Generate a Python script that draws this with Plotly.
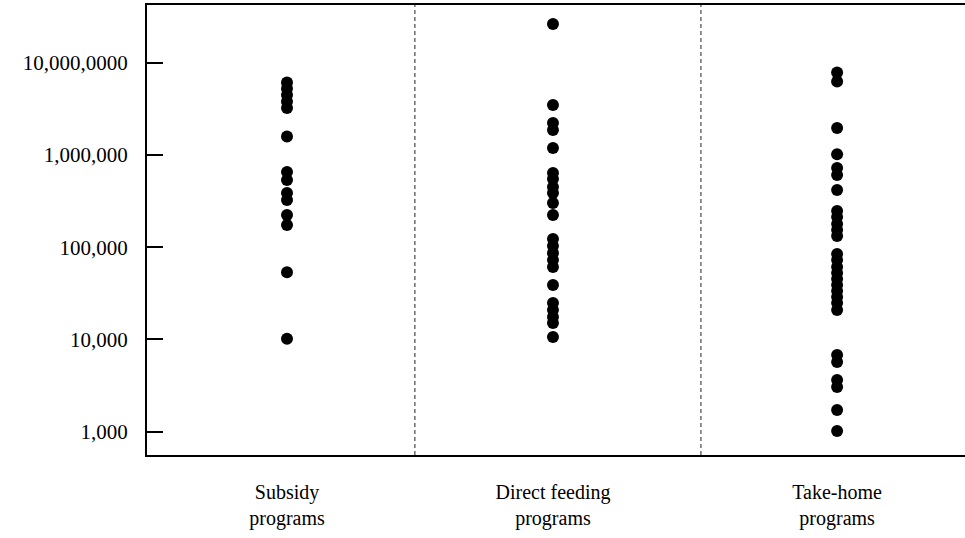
import plotly.graph_objects as go

categories = ["Subsidy<br>programs", "Direct feeding<br>programs", "Take-home<br>programs"]

subsidy = [6100000, 5250000, 4470000, 3800000, 3230000, 1585000, 653000, 535000,
           387000, 325000, 223000, 174000, 53400, 10200]
direct_feeding = [26300000, 3480000, 2220000, 1860000, 1190000, 637000, 549000, 450000,
                  387000, 301000, 223000, 123000, 103000, 86500, 72600, 61000, 38900,
                  24800, 20900, 17500, 15100, 10600]
take_home = [7830000, 6250000, 1960000, 1020000, 722000, 606000, 417000, 247000, 212000,
             178000, 154000, 132000, 84400, 72600, 61000, 52500, 45200, 38900, 33500,
             28800, 24800, 20900, 6780, 5700, 3630, 3050, 1720, 1020]

tick_vals = [1000, 10000, 100000, 1000000, 10000000]
tick_text = ["1,000", "10,000", "100,000", "1,000,000", "10,000,0000"]

series = [subsidy, direct_feeding, take_home]

# layout constants
CAT_POS = [0, 0.967, 2]
DIVIDERS = [0.465, 1.505]
FONT = "Liberation Serif"

fig = go.Figure()
for pos, vals in zip(CAT_POS, series):
    fig.add_trace(go.Scatter(
        x=[pos] * len(vals), y=vals, mode="markers",
        marker=dict(color="black", size=12, line=dict(width=0)),
        showlegend=False, hoverinfo="y",
    ))

for d in DIVIDERS:
    fig.add_shape(type="line", xref="x", yref="paper", x0=d, x1=d, y0=0, y1=1,
                  line=dict(color="#222", width=1, dash="4px,3px"))

fig.update_layout(
    width=965, height=538,
    margin=dict(l=147, r=0, t=5, b=83),
    paper_bgcolor="white", plot_bgcolor="white",
    font=dict(family=FONT, color="black"),
    xaxis=dict(
        range=[-0.509, 2.465], tickvals=CAT_POS, ticktext=categories,
        ticks="", showgrid=False, zeroline=False,
        showline=True, linecolor="black", linewidth=2, mirror=True,
        tickfont=dict(family=FONT, size=20, color="black"),
        ticklabelstandoff=18,
    ),
    yaxis=dict(
        type="log", range=[2.7474, 7.6255],
        tickvals=tick_vals, ticktext=tick_text,
        ticks="inside", ticklen=16, tickwidth=2, tickcolor="black",
        showgrid=False, zeroline=False,
        showline=True, linecolor="black", linewidth=2,
        tickfont=dict(family=FONT, size=21, color="black"),
        ticklabelstandoff=13,
    ),
)

fig.write_html("out.html")
